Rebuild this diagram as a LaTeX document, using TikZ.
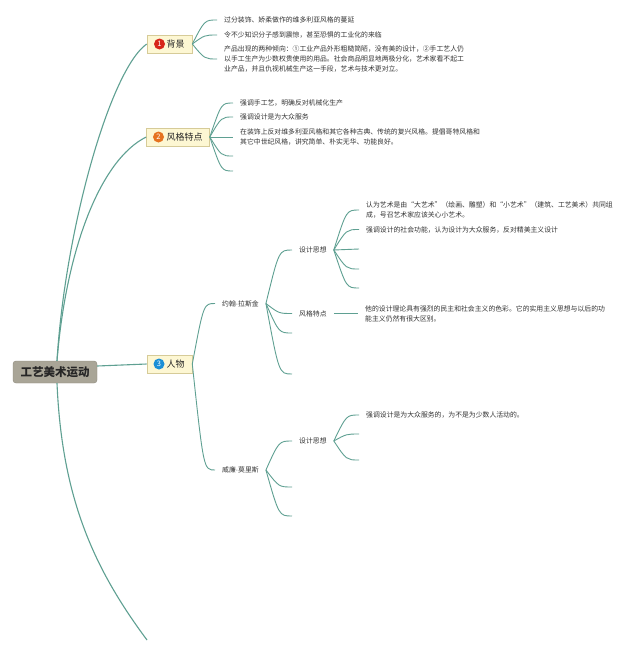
\documentclass[tikz,border=0pt]{standalone}
\usepackage{fontspec}
\setmainfont{Noto Sans CJK SC}
\newfontfamily\dotfont{Liberation Sans}
\usetikzlibrary{calc}
\definecolor{lk}{HTML}{5FA092}
\definecolor{rootfill}{HTML}{A9A597}
\definecolor{rootdraw}{HTML}{8E8A7D}
\definecolor{bfill}{HTML}{FDF7D3}
\definecolor{bdraw}{HTML}{D6CB98}
\definecolor{txt}{HTML}{333333}
\definecolor{nred}{HTML}{D7261B}
\definecolor{norange}{HTML}{E5721F}
\definecolor{nblue}{HTML}{1C8FD6}
\newcommand\mmconn[2]{\draw[subconn] let \p1=(#1), \p2=(#2) in (\p1) .. controls ({0.5*\x1+0.5*\x2},\y2) .. (\p2);}
\newcommand\ndot{{\dotfont ·}}
\begin{document}
\begin{tikzpicture}[x=1pt,y=-1pt,
  rootbox/.style={draw=rootdraw, fill=rootfill, rounded corners=3pt, minimum width=84pt, minimum height=22pt, inner sep=0pt, font=\fontsize{11.5pt}{12pt}\selectfont\bfseries, text=black!85},
  branchbox/.style={draw=bdraw, fill=bfill, minimum height=18pt, inner sep=0pt, line width=0.6pt},
  numc/.style={circle, fill=#1, text=white, minimum size=11pt, inner sep=0pt, font=\fontsize{7.5pt}{8pt}\selectfont},
  blabel/.style={anchor=west, inner sep=0pt, font=\fontsize{9pt}{10pt}\selectfont, text=black!85},
  leaf/.style={anchor=west, inner xsep=7pt, inner ysep=1pt, align=left, font=\fontsize{6.85pt}{10pt}\selectfont, text=txt},
  mainconn/.style={draw=lk, line width=1.1pt},
  subconn/.style={draw=lk, line width=0.9pt}]
\useasboundingbox (0,0) rectangle (640,653);
\fill[white] (0,0) rectangle (640,653);

% root
\node[rootbox] (root) at (55,372) {工艺美术运动};

% branch 1
\node[branchbox, minimum width=45pt] (b1) at (169.5,44) {};
\node[numc=nred] (b1n) at (159.5,44) {1};
\node[blabel] (b1t) at (166.5,44) {背景};
% branch 2
\node[branchbox, minimum width=63pt] (b2) at (178,137) {};
\node[numc=norange] (b2n) at (158.5,137) {2};
\node[blabel] (b2t) at (166.5,137) {风格特点};
% branch 3
\node[branchbox, minimum width=45pt] (b3) at (169.5,364) {};
\node[numc=nblue] (b3n) at (159,364) {3};
\node[blabel] (b3t) at (166.5,364) {人物};

% branch 1 leaves
\node[leaf] (t11) at (217,20) {过分装饰、娇柔做作的维多利亚风格的蔓延};
\node[leaf] (t12) at (217,35) {令不少知识分子感到震惊，甚至恐惧的工业化的来临};
\node[leaf] (t13) at (217,59) {产品出现的两种倾向：①工业产品外形粗糙简陋，没有美的设计，②手工艺人仍\\以手工生产为少数权贵使用的用品。社会商品明显地两极分化，艺术家看不起工\\业产品，并且仇视机械生产这一手段，艺术与技术更对立。};

% branch 2 leaves
\node[leaf] (t21) at (233,103) {强调手工艺，明确反对机械化生产};
\node[leaf] (t22) at (233,117) {强调设计是为大众服务};
\node[leaf] (t23) at (233,137) {在装饰上反对维多利亚风格和其它各种古典、传统的复兴风格。提倡哥特风格和\\其它中世纪风格，讲究简单、朴实无华、功能良好。};
\coordinate (e24) at (233,156);
\coordinate (e25) at (233,171);

% branch 3: persons
\node[leaf] (p1) at (215,303.5) {约翰\ndot 拉斯金};
\node[leaf] (p2) at (215,470) {威廉\ndot 莫里斯};

\node[leaf] (d1) at (292,250) {设计思想};
\node[leaf] (s1) at (292,313.5) {风格特点};
\coordinate (e33) at (292,333);
\coordinate (e34) at (292,374);

\node[leaf] (t311) at (359,210) {认为艺术是由“大艺术”（绘画、雕塑）和“小艺术”（建筑、工艺美术）共同组\\成，号召艺术家应该关心小艺术。};
\node[leaf] (t312) at (359,229.5) {强调设计的社会功能，认为设计为大众服务，反对精美主义设计};
\coordinate (e313) at (359,249);
\coordinate (e314) at (359,269);
\coordinate (e315) at (359,288);

\node[leaf] (t32) at (358,313.5) {他的设计理论具有强烈的民主和社会主义的色彩。它的实用主义思想与以后的功\\能主义仍然有很大区别。};

\node[leaf] (d2) at (292,441) {设计思想};
\coordinate (e44) at (292,487);
\coordinate (e45) at (292,516);
\node[leaf] (t41) at (359,415) {强调设计是为大众服务的，为不是为少数人活动的。};
\coordinate (e42) at (359,434);
\coordinate (e43) at (359,460);

\coordinate (e4) at (147,640);

% root connectors
\draw[mainconn] ([xshift=2pt]root.north) .. controls (65,230) and (110,70) .. (b1.west);
\draw[mainconn] ([xshift=2pt]root.north) .. controls (66,250) and (100,160) .. (b2.west);
\draw[mainconn] ([yshift=6pt]root.east) -- (b3.west);
\draw[mainconn] ([xshift=2pt]root.south) .. controls (62,500) and (95,570) .. (e4);

% branch 1
\mmconn{b1.east}{t11.west}
\mmconn{b1.east}{t12.west}
\mmconn{b1.east}{t13.west}
% branch 2
\mmconn{b2.east}{t21.west}
\mmconn{b2.east}{t22.west}
\mmconn{b2.east}{t23.west}
\mmconn{b2.east}{e24}
\mmconn{b2.east}{e25}
% branch 3
\mmconn{b3.east}{p1.west}
\mmconn{b3.east}{p2.west}
\mmconn{p1.east}{d1.west}
\mmconn{p1.east}{s1.west}
\mmconn{p1.east}{e33}
\mmconn{p1.east}{e34}
\mmconn{d1.east}{t311.west}
\mmconn{d1.east}{t312.west}
\mmconn{d1.east}{e313}
\mmconn{d1.east}{e314}
\mmconn{d1.east}{e315}
\draw[subconn] (s1.east) -- (t32.west);
\mmconn{p2.east}{d2.west}
\mmconn{p2.east}{e44}
\mmconn{p2.east}{e45}
\mmconn{d2.east}{t41.west}
\mmconn{d2.east}{e42}
\mmconn{d2.east}{e43}
\end{tikzpicture}
\end{document}
